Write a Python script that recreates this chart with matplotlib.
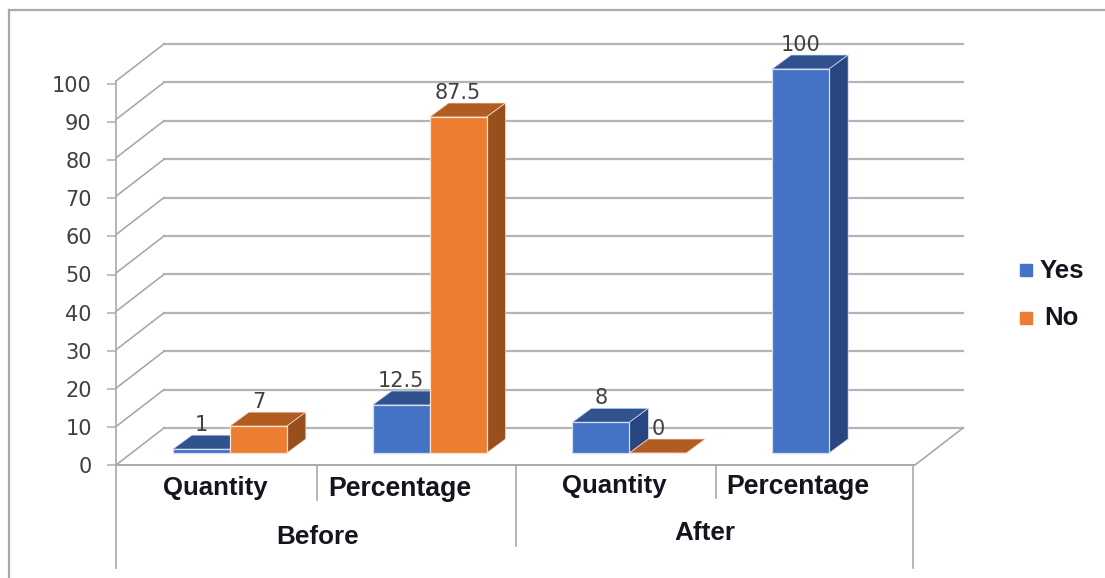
import numpy as np
import matplotlib.pyplot as plt
from matplotlib.lines import Line2D
from matplotlib.patches import Polygon, Rectangle

W, H = 1105, 578

groups = ["Before", "After"]
measures = ["Quantity", "Percentage", "Quantity", "Percentage"]
yes_vals = [1, 12.5, 8, 100]
no_vals = [7, 87.5, 0, np.nan]
yticks = list(range(0, 101, 10))

plt.rcParams["font.family"] = "DejaVu Sans"

GRID = "#b4b4b4"
TEXT = "#15151f"
BLUE = ("#4472c4", "#30528f", "#2a4680", "#d3def2")
ORANGE = ("#ed7d31", "#b35c22", "#984f1e", "#fae3d3")


def px(x, y):
    # figure fractions from pixel positions, origin top left
    return x / W, 1 - y / H


fig = plt.figure(figsize=(W / 100, H / 100), dpi=100)

# main axes: the front plane of the 3D box
ax = fig.add_axes([116 / W, 1 - 465 / H, 799 / W, 384 / H])
ax.set_xlim(0, 4)
ax.set_ylim(0, 100)
ax.axis("off")

unit_x = 799 / 4
unit_y = 3.84
wall_dx, wall_dy = 48 / unit_x, 37 / unit_y
base_dx, base_dy = 14 / unit_x, 12 / unit_y
depth_x, depth_y = 19 / unit_x, 14 / unit_y
bar_w = 57 / unit_x

# back wall gridlines and the diagonals running down to the front plane
for v in yticks:
    ax.plot([wall_dx, 4 + wall_dx], [v + wall_dy] * 2, color=GRID, lw=1.6,
            clip_on=False, zorder=1)
    ax.plot([0, wall_dx], [v, v + wall_dy], color="#a9a9a9", lw=1.2,
            clip_on=False, zorder=1)
ax.plot([4, 4 + wall_dx], [0, wall_dy], color="#a9a9a9", lw=1.2, clip_on=False, zorder=1)


def draw_bars(centers, values, colors, order):
    front, top, side, edge = colors
    xs = np.array(centers) + base_dx
    ax.bar(xs, values, width=bar_w, bottom=base_dy, color=front, edgecolor=edge,
           linewidth=0.9, clip_on=False, zorder=order + 0.5)
    for x, v in zip(xs, values):
        if np.isnan(v):
            continue
        l, r = x - bar_w / 2, x + bar_w / 2
        t = v + base_dy
        ax.add_patch(Polygon([(l, t), (r, t), (r + depth_x, t + depth_y), (l + depth_x, t + depth_y)],
                             facecolor=top, edgecolor=edge, linewidth=0.5,
                             clip_on=False, zorder=order))
        if v > 0:
            ax.add_patch(Polygon([(r, base_dy), (r + depth_x, base_dy + depth_y),
                                  (r + depth_x, t + depth_y), (r, t)],
                                 facecolor=side, edgecolor=edge, linewidth=0.5,
                                 clip_on=False, zorder=order))
        ax.annotate(f"{v:g}", (x, t), xytext=(0, 24), textcoords="offset pixels",
                    ha="center", va="center", fontsize=15, color="#404040",
                    annotation_clip=False, zorder=20)


# yes and no sit side by side around each category centre
for i in range(4):
    c = i + 0.5
    draw_bars([c - bar_w / 2], [yes_vals[i]], BLUE, 5 + 2 * i)
    draw_bars([c + bar_w / 2], [no_vals[i]], ORANGE, 6 + 2 * i)

# value axis has a slightly tighter scale than the wall
tick_ax = fig.add_axes([116 / W, 1 - 465 / H, 799 / W, 381 / H], facecolor="none")
tick_ax.set_ylim(0, 100)
tick_ax.set_xlim(0, 4)
tick_ax.set_xticks([])
tick_ax.set_yticks(yticks)
tick_ax.tick_params(axis="y", length=6.5, width=1.2, color=GRID, pad=11,
                    labelsize=15, labelcolor="#404040")
for name in ["top", "right", "bottom", "left"]:
    tick_ax.spines[name].set_visible(False)

# outer frame and the multi level category axis
overlay = [
    ((9, 578), (9, 10), 1.6),
    ((9, 10), (1105, 10), 1.6),
    ((115.5, 81), (115.5, 568), 1.2),
    ((115.5, 465), (914, 465), 1.4),
    ((317, 465), (317, 500), 1.2),
    ((516, 465), (516, 546), 1.2),
    ((716, 465), (716, 498), 1.2),
    ((912.5, 465), (912.5, 568), 1.2),
]
for a, b, lw in overlay:
    xa, ya = px(*a)
    xb, yb = px(*b)
    fig.add_artist(Line2D([xa, xb], [ya, yb], color="#a9a9a9", lw=lw))

measure_pos = [(215, 488), (400, 489), (614, 486), (798, 487)]
measure_size = [18.5, 19.2, 18.5, 19.2]
for name, (x, y), size in zip(measures, measure_pos, measure_size):
    fx, fy = px(x, y)
    fig.text(fx, fy, name, family="Liberation Sans", weight="bold", fontsize=size,
             color=TEXT, ha="center", va="center")

group_pos = [(318, 537), (705, 533)]
for name, (x, y) in zip(groups, group_pos):
    fx, fy = px(x, y)
    fig.text(fx, fy, name, family="Liberation Sans", weight="bold", fontsize=18.8,
             color=TEXT, ha="center", va="center")

# legend
legend_rows = [("Yes", BLUE[0], 270.5, 1040), ("No", ORANGE[0], 318, 1044)]
for name, color, y, text_x in legend_rows:
    fx, fy = px(1020, y + 6)
    fig.add_artist(Rectangle((fx, fy), 12 / W, 12 / H, color=color,
                             transform=fig.transFigure))
    fx, fy = px(text_x, y)
    fig.text(fx, fy, name, family="Liberation Sans", weight="bold", fontsize=18.5,
             color=TEXT, ha="left", va="center")

fig.savefig("out.png", dpi=100)
